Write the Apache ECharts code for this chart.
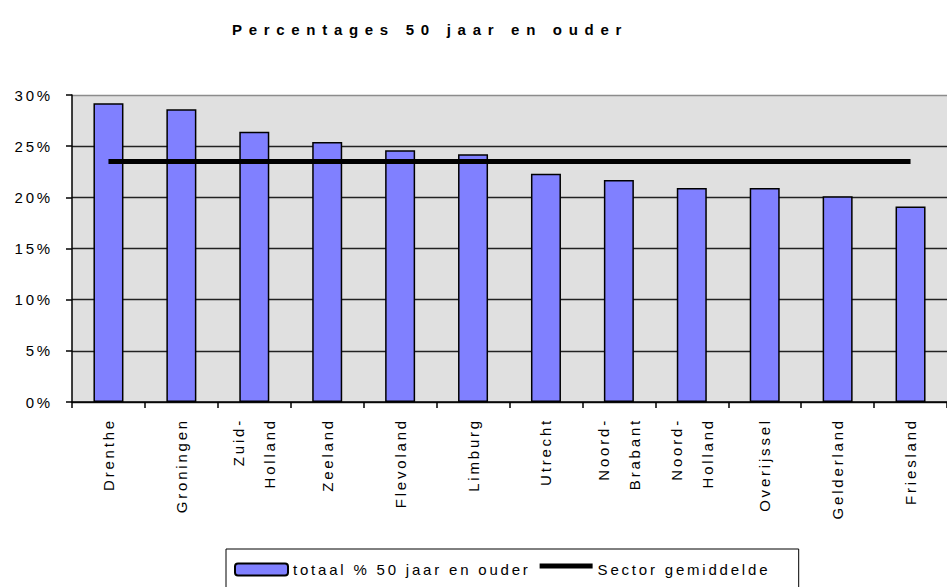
<!DOCTYPE html>
<html>
<head>
<meta charset="utf-8">
<script src="https://cdn.jsdelivr.net/npm/echarts@6/dist/echarts.min.js"></script>
<style>
  html, body { margin: 0; padding: 0; background: #fff; }
  #chart { width: 947px; height: 587px; }
  /* old Excel export look: wide letter spacing everywhere */
  #chart text { letter-spacing: 2.8px; }
  #chart text[style*="bold"], #chart text[font-weight="bold"] { letter-spacing: 6.7px; }
</style>
</head>
<body>
<div id="chart"></div>
<script>
const provinces = [
  'Drenthe', 'Groningen', 'Zuid-\nHolland', 'Zeeland', 'Flevoland', 'Limburg',
  'Utrecht', 'Noord-\nBrabant', 'Noord-\nHolland', 'Overijssel', 'Gelderland', 'Friesland'
];
const totaal50Plus = [29.2, 28.6, 26.4, 25.4, 24.6, 24.2, 22.3, 21.7, 20.9, 20.9, 20.1, 19.1];
const sectorGemiddelde = [23.5, 23.5, 23.5, 23.5, 23.5, 23.5, 23.5, 23.5, 23.5, 23.5, 23.5, 23.5];
const yTicks = [0, 5, 10, 15, 20, 25, 30];

const fontFamily = '"Liberation Sans", Arial, sans-serif';

const chart = echarts.init(document.getElementById('chart'), null, { renderer: 'svg' });

const option = {
  animation: false,
  backgroundColor: '#fff',
  title: {
    text: 'Percentages 50 jaar en ouder',
    left: 232,
    top: 22,
    padding: 0,
    textStyle: {
      fontFamily,
      fontSize: 15,
      fontWeight: 'bold',
      color: '#000'
    }
  },
  legend: {
    left: 226,
    top: 549,
    // letter spacing is added by css, so gaps are widened by hand
    padding: [13, 76, 14, 8],
    orient: 'horizontal',
    itemWidth: 53,
    itemHeight: 12,
    itemGap: 79,
    borderColor: '#000',
    borderWidth: 1,
    backgroundColor: '#fff',
    textStyle: {
      fontFamily,
      fontSize: 15,
      color: '#000'
    },
    data: [
      { name: 'totaal % 50 jaar en ouder' },
      {
        name: 'Sector gemiddelde',
        icon: 'path://M0,0H53V5H0ZM0,12H1V12H0Z',
        itemStyle: { borderWidth: 0 }
      }
    ]
  },
  grid: {
    left: 72,
    top: 95,
    width: 884,
    height: 307,
    show: true,
    backgroundColor: '#e0e0e0',
    borderWidth: 0
  },
  xAxis: {
    type: 'category',
    data: provinces,
    boundaryGap: true,
    axisLine: { lineStyle: { color: '#000', width: 1.5 } },
    axisTick: { show: true, length: 6, lineStyle: { color: '#000', width: 1.5 } },
    axisLabel: {
      rotate: 90,
      interval: 0,
      margin: 16,
      fontFamily,
      fontSize: 15,
      lineHeight: 31,
      color: '#000'
    }
  },
  yAxis: {
    type: 'value',
    min: yTicks[0],
    max: yTicks[yTicks.length - 1],
    interval: 5,
    axisLine: { show: true, lineStyle: { color: '#000', width: 1.5 } },
    axisTick: { show: true, length: 6, lineStyle: { color: '#000', width: 1.5 } },
    axisLabel: {
      margin: 19,
      fontFamily,
      fontSize: 15,
      color: '#000',
      formatter: '{value}%'
    },
    splitLine: {
      show: true,
      lineStyle: {
        color: ['#222', '#222', '#222', '#222', '#222', '#222', '#8c8c8c'],
        width: 1.4
      }
    }
  },
  series: [
    {
      name: 'totaal % 50 jaar en ouder',
      type: 'bar',
      barWidth: 30,
      data: totaal50Plus,
      itemStyle: {
        color: '#8080ff',
        borderColor: '#000',
        borderWidth: 1.5
      }
    },
    {
      name: 'Sector gemiddelde',
      type: 'line',
      data: sectorGemiddelde,
      symbol: 'none',
      z: 5,
      lineStyle: { color: '#000', width: 5 },
      itemStyle: { color: '#000' }
    }
  ]
};

chart.setOption(option);
</script>
</body>
</html>
